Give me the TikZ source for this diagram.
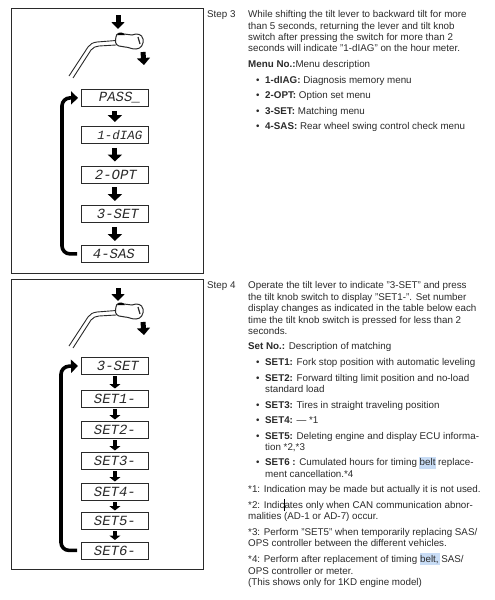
\documentclass[tikz,border=0pt]{standalone}
\usepackage{fontspec}
\setmainfont{Liberation Sans}
\newfontfamily\lcdfont{Liberation Mono}
\usetikzlibrary{arrows.meta}
\definecolor{ink}{HTML}{2A2A2A}
\definecolor{hilite}{HTML}{C9DDF6}
\tikzset{
  frame/.style={draw=ink,line width=0.9pt},
  lcd/.style={draw=ink,line width=0.8pt,minimum width=67pt,minimum height=17pt,inner sep=0pt,anchor=north west,font=\lcdfont\itshape\fontsize{14}{14}\selectfont,text=ink},
  flow/.style={-{Triangle[length=7pt,width=14pt]},line width=5pt,black,shorten <=4pt,shorten >=4pt},
  flowsmall/.style={-{Triangle[length=4.5pt,width=11pt]},line width=4.4pt,black,shorten <=1.5pt,shorten >=1.5pt},
  loopback/.style={-{Triangle[length=7pt,width=13pt]},line width=3.6pt,black,rounded corners=8pt,shorten >=3pt,shorten <=4pt},
  txt/.style={anchor=base west,inner sep=0pt,font=\fontsize{9.8}{11}\selectfont,text=ink},
  lever/.style={draw=ink,line width=0.9pt},
  knob/.style={draw=ink,line width=1pt,fill=white},
  press/.style={-{Triangle[length=7pt,width=13pt]},line width=5pt,black}
}
\newcommand{\B}[1]{\textbf{#1}}
\newcommand{\leverart}[1]{%
\begin{scope}[shift={(0,#1)}]
\draw[lever] (69,76) -- (88,47) .. controls (90,44) and (93,42.5) .. (97,42) -- (116,40.5);
\draw[lever] (73,78) -- (91,50) .. controls (93,47.5) and (96,46) .. (99,46) -- (116,45);
\draw[knob] (116,37) .. controls (116,33) and (121,32) .. (124,34) -- (132,35) .. controls (137,33) and (142,34) .. (143,39) .. controls (144,44) and (141,49) .. (136,49) .. controls (132,49.5) and (129,47) .. (125,47) -- (119,46) .. controls (115,45) and (115,41) .. (116,37) -- cycle;
\fill[black] (117,35) .. controls (119,32) and (123,32) .. (125,35) -- cycle;
\draw[ink,line width=1.2pt] (138,37) -- (140,44);
\end{scope}}
\begin{document}
\begin{tikzpicture}[x=1pt,y=-1pt]
\useasboundingbox (0,0) rectangle (495,600);
% frames
\node[frame,minimum width=192pt,minimum height=265pt,inner sep=0pt,anchor=north west] (f1) at (11,8) {};
\node[frame,minimum width=192pt,minimum height=290pt,inner sep=0pt,anchor=north west] (f2) at (11,278.5) {};
% levers
\leverart{0}
\leverart{270}
\coordinate (a1s) at (118,15); \coordinate (a1e) at (118,29);
\coordinate (a2s) at (143,52); \coordinate (a2e) at (144,65);
\coordinate (b1s) at (118,288); \coordinate (b1e) at (118,301);
\coordinate (b2s) at (143,322); \coordinate (b2e) at (144,335);
\draw[press] (a1s) -- (a1e);
\draw[press] (a2s) -- (a2e);
\draw[press] (b1s) -- (b1e);
\draw[press] (b2s) -- (b2e);
% step 3 displays
\node[lcd] (p0) at (81,89) {\hspace*{10pt}PASS\_};
\node[lcd] (p1) at (81,126) {\hspace*{10pt}\fontsize{12.5}{12.5}\selectfont 1-dIAG};
\node[lcd] (p2) at (81,165.5) {\hspace*{2pt}2-OPT};
\node[lcd] (p3) at (81,205) {\hspace*{6pt}3-SET};
\node[lcd] (p4) at (81,245) {\hspace*{-2pt}4-SAS};
\foreach \a/\b in {p0/p1,p1/p2,p2/p3,p3/p4}
  \draw[flow] (\a) -- (\b);
\draw[loopback] (p4.west) -- ++(-19,0) -- ++(0,-156) -- (p0.west);
% step 4 displays
\node[lcd] (s0) at (81,357) {\hspace*{6pt}3-SET};
\node[lcd] (s1) at (81,390) {SET1-};
\node[lcd] (s2) at (81,421) {SET2-};
\node[lcd] (s3) at (81,452) {SET3-};
\node[lcd] (s4) at (81,483) {SET4-};
\node[lcd] (s5) at (81,512) {SET5-};
\node[lcd] (s6) at (81,541.5) {SET6-};
\foreach \a/\b in {s0/s1,s1/s2,s2/s3,s3/s4,s4/s5,s5/s6}
  \draw[flowsmall] (\a) -- (\b);
\draw[loopback] (s6.west) -- ++(-20,0) -- ++(0,-184) -- (s0.west);
% highlights
\fill[hilite] (419,456.5) rectangle (436,468.5);
\fill[hilite] (420,552.5) rectangle (440,565);
% step 3 text
\node[txt] (t1) at (207,17) {Step 3};
\node[txt] (t2) at (248,17) {While shifting the tilt lever to backward tilt for more};
\node[txt] (t3) at (248,29) {than 5 seconds, returning the lever and tilt knob};
\node[txt] (t4) at (248,40.5) {switch after pressing the switch for more than 2};
\node[txt] (t5) at (248,51.5) {seconds will indicate "1-dIAG" on the hour meter.};
\node[txt] (t6) at (248,67) {\B{Menu No.:}Menu description};
\node[txt] (u1) at (256,83) {•}; \node[txt] (t7) at (265,83) {\B{1-dIAG:} Diagnosis memory menu};
\node[txt] (u2) at (256,98) {•}; \node[txt] (t8) at (265,98) {\B{2-OPT:} Option set menu};
\node[txt] (u3) at (256,114) {•}; \node[txt] (t9) at (265,114) {\B{3-SET:} Matching menu};
\node[txt] (u4) at (256,129.5) {•}; \node[txt] (t10) at (265,129.5) {\B{4-SAS:} Rear wheel swing control check menu};
% step 4 text
\node[txt] (v1) at (207,288) {Step 4};
\node[txt] (v2) at (248,288) {Operate the tilt lever to indicate "3-SET" and press};
\node[txt] (v3) at (248,300) {the tilt knob switch to display "SET1-". Set number};
\node[txt] (v4) at (248,311.5) {display changes as indicated in the table below each};
\node[txt] (v5) at (248,323) {time the tilt knob switch is pressed for less than 2};
\node[txt] (v6) at (248,334) {seconds.};
\node[txt] (v7) at (248,349.5) {\B{Set No.:} Description of matching};
\node[txt] (w1) at (256,365) {•}; \node[txt] (v8) at (265,365) {\B{SET1:} Fork stop position with automatic leveling};
\node[txt] (w2) at (256,381) {•}; \node[txt] (v9) at (265,381) {\B{SET2:} Forward tilting limit position and no-load};
\node[txt] (v10) at (265,392.5) {standard load};
\node[txt] (w3) at (256,408) {•}; \node[txt] (v11) at (265,408) {\B{SET3:} Tires in straight traveling position};
\node[txt] (w4) at (256,423.5) {•}; \node[txt] (v12) at (265,423.5) {\B{SET4:} --- *1};
\node[txt] (w5) at (256,439) {•}; \node[txt] (v13) at (265,439) {\B{SET5:} Deleting engine and display ECU informa-};
\node[txt] (v14) at (265,450) {tion *2,*3};
\node[txt] (w6) at (256,465.5) {•}; \node[txt] (v15) at (265,465.5) {\B{SET6 :} Cumulated hours for timing belt replace-};
\node[txt] (v16) at (265,477) {ment cancellation.*4};
\node[txt] (v17) at (248,492.5) {*1: Indication may be made but actually it is not used.};
\node[txt] (v18) at (248,508) {*2: Indicates only when CAN communication abnor-};
\node[txt] (v19) at (248,519) {malities (AD-1 or AD-7) occur.};
\node[txt] (v20) at (248,535) {*3: Perform "SET5" when temporarily replacing SAS/};
\node[txt] (v21) at (248,546.5) {OPS controller between the different vehicles.};
\node[txt] (v22) at (248,562) {*4: Perform after replacement of timing belt, SAS/};
\node[txt] (v23) at (248,574) {OPS controller or meter.};
\node[txt] (v24) at (248,585) {(This shows only for 1KD engine model)};
% text cursor
\draw[black,line width=0.6pt] (284,499) -- (284,511);
\end{tikzpicture}
\end{document}
